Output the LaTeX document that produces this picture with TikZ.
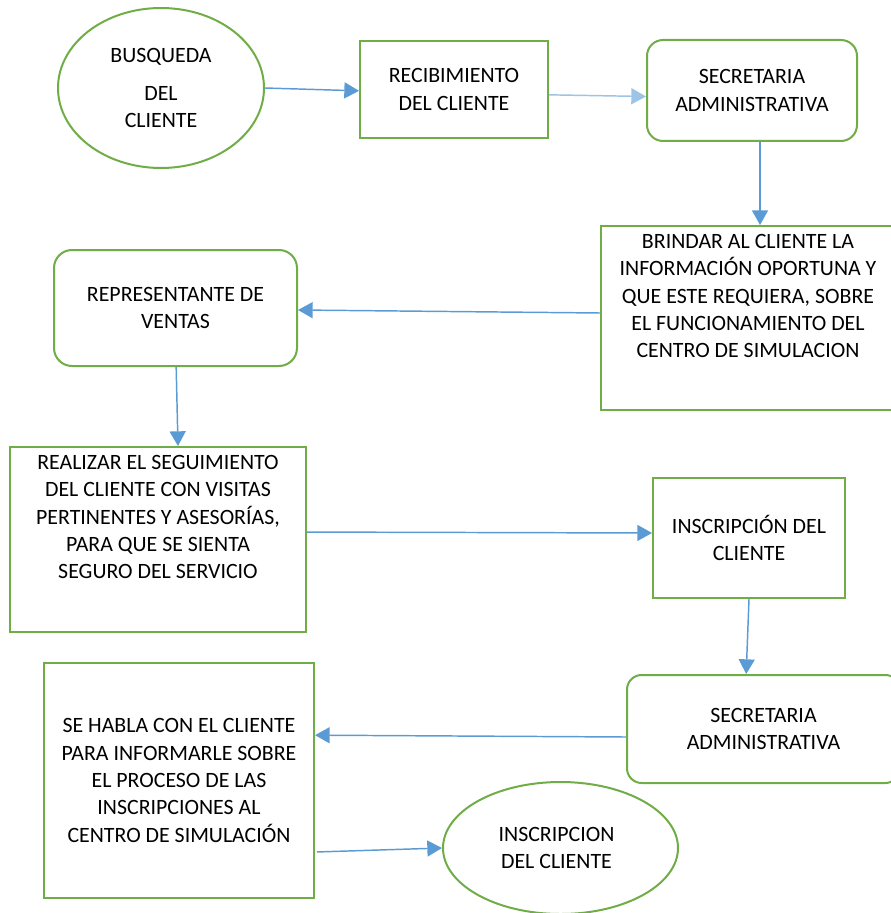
\documentclass[tikz,border=0pt]{standalone}
\usepackage{fontspec}
\setmainfont{Carlito}
\usetikzlibrary{arrows.meta,shapes.geometric}
\definecolor{grn}{HTML}{70AD47}
\definecolor{blu}{HTML}{5B9BD5}
\definecolor{lblu}{HTML}{9DC3E6}
\begin{document}
\begin{tikzpicture}[x=0.75pt,y=-0.75pt,
  every node/.style={font=\fontsize{16.4}{20.6}\selectfont, align=center},
  sbox/.style={draw=grn, line width=1.5pt, fill=white, rectangle, inner sep=0pt},
  rbox/.style={sbox, rounded corners=12pt},
  ebox/.style={draw=grn, line width=1.5pt, fill=white, ellipse, inner sep=0pt},
  txt/.style={inner sep=0pt},
  arr/.style={draw=blu, line width=1.1pt, -{Triangle[length=11pt,width=12pt]}}]
\useasboundingbox (0,0) rectangle (891,913);
\node[ebox, minimum width=154.5pt, minimum height=120pt] (busq) at (161,88) {BUSQUEDA\\[8pt] DEL\\ CLIENTE};
\node[sbox, minimum width=141pt, minimum height=72.75pt] (recib) at (454,89.5) {RECIBIMIENTO\\ DEL CLIENTE};
\node[rbox, minimum width=157.5pt, minimum height=75.75pt] (sec1) at (752,90.5) {SECRETARIA\\ ADMINISTRATIVA};
\node[sbox, minimum width=219pt, minimum height=138pt] (brindar) at (747,318) {};
\node[txt] (brindart) at (748,296) {BRINDAR AL CLIENTE LA\\ INFORMACIÓN OPORTUNA Y\\ QUE ESTE REQUIERA, SOBRE\\ EL FUNCIONAMIENTO DEL\\ CENTRO DE SIMULACION};
\node[rbox, rounded corners=13.5pt, minimum width=182.25pt, minimum height=87pt] (rep) at (175.5,308) {REPRESENTANTE DE\\ VENTAS};
\node[sbox, minimum width=222pt, minimum height=138.75pt] (realizar) at (158,539.5) {};
\node[txt] (realizart) at (158,517) {REALIZAR EL SEGUIMIENTO\\ DEL CLIENTE CON VISITAS\\ PERTINENTES Y ASESORÍAS,\\ PARA QUE SE SIENTA\\ SEGURO DEL SERVICIO};
\node[sbox, minimum width=144pt, minimum height=90pt] (inscr) at (749,538) {INSCRIPCIÓN DEL\\ CLIENTE};
\node[rbox, rounded corners=11pt, minimum width=204.75pt, minimum height=81pt] (sec2) at (763.5,729) {SECRETARIA\\ ADMINISTRATIVA};
\node[sbox, minimum width=202.5pt, minimum height=176.25pt] (sehabla) at (179,780.5) {SE HABLA CON EL CLIENTE\\ PARA INFORMARLE SOBRE\\ EL PROCESO DE LAS\\ INSCRIPCIONES AL\\ CENTRO DE SIMULACIÓN};
\node[ebox, minimum width=176.25pt, minimum height=99pt] (fin) at (560.5,848) {\hspace*{-6pt}INSCRIPCION\\ \hspace*{-6pt}DEL CLIENTE};
\draw[arr] (busq.east) -- ([yshift=-1pt]recib.west);
\draw[arr, draw=lblu] ([yshift=-4pt]recib.east) -- ([yshift=-4.5pt]sec1.west);
\draw[arr] ([xshift=6pt]sec1.south) -- ([xshift=9.75pt]brindar.north);
\draw[arr] ([yshift=3.75pt]brindar.west) -- ([yshift=-1.5pt]rep.east);
\draw[arr] ([xshift=0.5pt]rep.south) -- ([xshift=15pt]realizar.north);
\draw[arr] ([yshift=5.6pt]realizar.east) -- ([yshift=3.75pt]inscr.west);
\draw[arr] (inscr.south) -- ([xshift=-13pt]sec2.north);
\draw[arr] ([yshift=-6pt]sec2.west) -- ([yshift=34pt]sehabla.east);
\draw[arr] ([xshift=1.5pt,yshift=-53.6pt]sehabla.east) -- (fin.west);
\end{tikzpicture}
\end{document}
